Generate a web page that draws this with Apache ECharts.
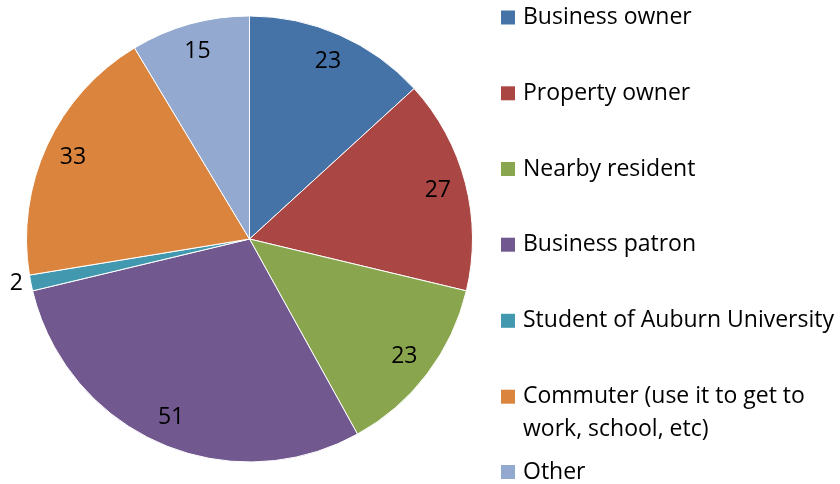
<!DOCTYPE html>
<html>
<head>
<meta charset="utf-8">
<script src="https://cdn.jsdelivr.net/npm/echarts@6/dist/echarts.min.js"></script>
<style>
    html, body { margin: 0; padding: 0; background: #fff; }
    #chart { width: 840px; height: 484px; }
</style>
</head>
<body>
<div id="chart"></div>
<script>
// chart data
const categories = ['Business owner', 'Property owner', 'Nearby resident', 'Business patron',
    'Student of Auburn University', 'Commuter (use it to get to\nwork, school, etc)', 'Other']
const values = [23, 27, 23, 51, 2, 33, 15]
const colors = ['#4572A7', '#AA4643', '#89A54E', '#71588F', '#4198AF', '#DB843D', '#93A9CF']

const FONT = 'Open Sans'
const FSIZE = 23
const legendCenters = [17.5, 93.3, 169, 244.7, 320.8, 396.7, 472] // symbol centre y

const chart = echarts.init(document.getElementById('chart'))

const pieData = categories.map((name, i) => ({ name: name, value: values[i] }))

// one legend per entry so the two-line entry keeps its square on the first line
const legends = categories.map((name, i) => {
    const twoLine = name.indexOf('\n') >= 0
    return {
        data: [name],
        orient: 'vertical',
        left: 501,
        top: twoLine ? legendCenters[i] - 49.5 : legendCenters[i] - 16.5,
        padding: 0,
        itemWidth: 14,
        itemHeight: 14,
        icon: 'rect',
        selectedMode: false,
        itemStyle: { borderWidth: 0 },
        // blank first line keeps the square level with the first text line
        formatter: n => n.indexOf('\n') >= 0 ? ' \n' + n : n,
        textStyle: {
            fontFamily: FONT,
            fontSize: FSIZE,
            color: '#000',
            lineHeight: 33,
            padding: [0, 0, 0, 3]
        }
    }
})

chart.setOption({
    animation: false,
    color: colors,
    legend: legends,
    series: [
        {
            type: 'pie',
            center: [249.5, 239],
            radius: 223,
            startAngle: 90,
            clockwise: true,
            silent: true,
            label: { show: false },
            labelLine: { show: false },
            itemStyle: { borderColor: '#fff', borderWidth: 1 },
            data: pieData
        },
        {
            // transparent ring only used to place the value labels
            type: 'pie',
            center: [249.5, 239],
            radius: [160, 223],
            startAngle: 90,
            clockwise: true,
            silent: true,
            avoidLabelOverlap: false,
            itemStyle: { color: 'transparent' },
            label: {
                show: true,
                position: 'inside',
                formatter: '{c}',
                fontFamily: FONT,
                fontSize: FSIZE,
                color: '#000'
            },
            labelLine: { show: false },
            data: pieData.map((d, i) => i === 4 ? {
                name: d.name,
                value: d.value,
                label: { position: 'outside', distanceToLabelLine: 3 },
                labelLine: { show: false, length: 3, length2: 2 }
            } : d)
        }
    ]
})
</script>
</body>
</html>
